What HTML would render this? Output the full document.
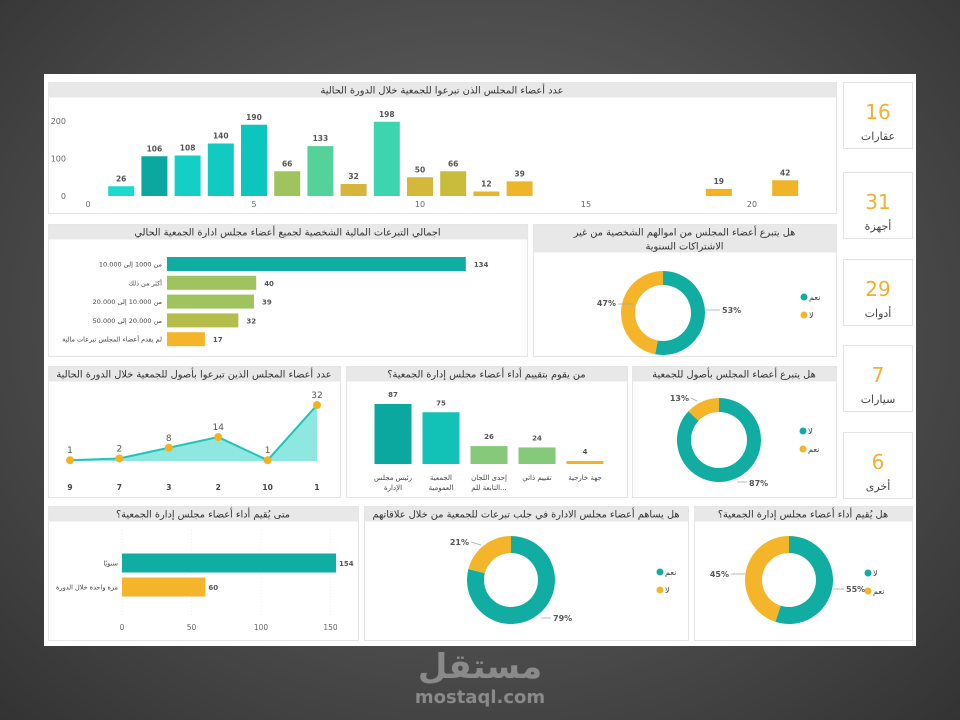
<!DOCTYPE html>
<html><head><meta charset="utf-8">
<style>
html,body{margin:0;padding:0;width:960px;height:720px;overflow:hidden}
body{background:radial-gradient(ellipse at 50% 45%,#6a6a6a 0%,#4a4a4a 60%,#333 100%);font-family:"DejaVu Sans","Liberation Sans",sans-serif}
svg{position:absolute;left:0;top:0}
text{font-family:"DejaVu Sans","Liberation Sans",sans-serif}
</style></head>
<body>
<svg id="s" width="960" height="720" xmlns="http://www.w3.org/2000/svg">
<rect x="44" y="74" width="872" height="572" fill="#fff"/>
<g id="logo">
<text x="480" y="678" text-anchor="middle" font-size="34" font-weight="bold" fill="#8a8a8a">مستقل</text>
<text x="480" y="703" text-anchor="middle" font-size="18" font-weight="bold" fill="#8a8a8a" font-family="Liberation Sans">mostaql.com</text>
</g>
</svg>
<script>
// ---- data ----
const topCats=[1,2,3,4,5,6,7,8,9,10,11,12,13,19,21];
const topVals=[26,106,108,140,190,66,133,32,198,50,66,12,39,19,42];
const topColors=["#1dd9cb","#0aa89f","#14cfc6","#11cac0","#0cc6bd","#9fc35e","#55d19a","#d6b53a","#3dd5b0","#d4b83a","#c9bb3c","#e8b52a","#ecb52a","#f3b124","#f0b428"];
const topXTicks=[0,5,10,15,20];
const topYTicks=[0,100,200];
const donLabels=["من 1000 إلى 10.000","أكثر من ذلك","من 10.000 إلى 20.000","من 20.000 إلى 50.000","لم يقدم أعضاء المجلس تبرعات مالية"];
const donVals=[134,40,39,32,17];
const donColors=["#12ada2","#9fc35e","#9fc35e","#b5bd4a","#f5b52a"];
const lineCats=["9","7","3","2","10","1"];
const lineVals=[1,2,8,14,1,32];
const evalCats=[["رئيس مجلس","الإدارة"],["الجمعية","العمومية"],["إحدى اللجان","التابعة للم..."],["تقييم ذاتي"],["جهة خارجية"]];
const evalVals=[87,75,26,24,4];
const evalColors=["#0aa89f","#12c2b6","#86c97a","#86c97a","#f3b124"];
const whenCats=["سنويًا","مرة واحدة خلال الدورة"];
const whenVals=[154,60];
const whenTicks=[0,50,100,150];
const d1Vals=[53,47], d1Legend=["نعم","لا"];
const d2Vals=[87,13], d2Legend=["لا","نعم"];
const d3Vals=[79,21], d3Legend=["نعم","لا"];
const d4Vals=[55,45], d4Legend=["لا","نعم"];
const kpiVals=[16,31,29,7,6];
const kpiLabels=["عقارات","أجهزة","أدوات","سيارات","أخرى"];
const TEAL="#12ada2", GOLD="#f5b52a";

const NS="http://www.w3.org/2000/svg", S=document.getElementById('s');
function el(tag,attrs,parent,txt){const e=document.createElementNS(NS,tag);for(const k in attrs)e.setAttribute(k,attrs[k]);if(txt!==undefined)e.textContent=txt;(parent||S).appendChild(e);return e;}
function panel(x,y,w,h,title,name,th){
  const g=el('g',{});
  
  
  el('rect',{x:x+.5,y:y+.5,width:w,height:h,fill:'#fff',stroke:'#e4e4e4'},g);
  const tb=el('rect',{x:x+.5,y:y+.5,width:w,height:th||15,fill:'#e8e8e8'},g);
  
  
  const lines=Array.isArray(title)?title:[title];
  lines.forEach((t,i)=>{const tt=el('text',{x:x+w/2,y:y+11.5+i*14,'text-anchor':'middle','font-size':9.8,fill:'#333'},g,t);
    
    });
  return g;
}
// ---- top bar chart ----
(function(){
  const g=panel(48,82,788,131,"عدد أعضاء المجلس الذن تبرعوا للجمعية خلال الدورة الحالية","top-bar-chart");
  const X=v=>88+v*33.2, Y=v=>196-v*0.375;
  topYTicks.forEach(t=>{const e=el('text',{x:66,y:Y(t)+3,'text-anchor':'end','font-size':8,fill:'#666'},g,t);
    
    });
  topXTicks.forEach(t=>{const e=el('text',{x:X(t),y:207,'text-anchor':'middle','font-size':8,fill:'#666'},g,t);
    
    });
  topCats.forEach((c,i)=>{const v=topVals[i];
    const b=el('rect',{x:X(c)-13,y:Y(v),width:26,height:Y(0)-Y(v),fill:topColors[i]},g);
    
    
    const l=el('text',{x:X(c),y:Y(v)-5,'text-anchor':'middle','font-size':7.5,'font-weight':'bold',fill:'#555'},g,v);
    
    });
})();
// ---- donations hbar ----
(function(){
  const g=panel(48,224,479,132,"اجمالي التبرعات المالية الشخصية لجميع أعضاء مجلس ادارة الجمعية الحالي","donations-bar-chart");
  const X=v=>167+v*2.23;
  donLabels.forEach((c,i)=>{const y=264+i*18.8;
    const b=el('rect',{x:X(0),y:y-7,width:X(donVals[i])-X(0),height:14,fill:donColors[i]},g);
    
    
    const t=el('text',{x:162,y:y+2.5,'text-anchor':'end','font-size':6.5,fill:'#444'},g,c);
    
    
    const v=el('text',{x:X(donVals[i])+8,y:y+3,'font-size':7,'font-weight':'bold',fill:'#555'},g,donVals[i]);
    
    });
})();
function donut(g,cx,cy,r0,r1,vals,colors,name){
  const tot=vals.reduce((a,b)=>a+b,0);let a=-Math.PI/2;
  vals.forEach((v,i)=>{const a2=a+v/tot*2*Math.PI,lg=(a2-a)>Math.PI?1:0;
    const p=`M${cx+r1*Math.cos(a)} ${cy+r1*Math.sin(a)} A${r1} ${r1} 0 ${lg} 1 ${cx+r1*Math.cos(a2)} ${cy+r1*Math.sin(a2)} L${cx+r0*Math.cos(a2)} ${cy+r0*Math.sin(a2)} A${r0} ${r0} 0 ${lg} 0 ${cx+r0*Math.cos(a)} ${cy+r0*Math.sin(a)}Z`;
    const s=el('path',{d:p,fill:colors[i]},g);
    
    
    a=a2;});
}
function pctLabel(g,x,y,t,anchor,lx1,ly1,lx2,ly2){
  el('line',{x1:lx1,y1:ly1,x2:lx2,y2:ly2,stroke:'#aaa','stroke-width':0.8},g);
  const e=el('text',{x:x,y:y,'text-anchor':anchor,'font-size':8,fill:'#555','font-weight':'bold'},g,t);
  
  
}
function legend(g,x,y,labels,name){
  labels.forEach((l,i)=>{const c=el('circle',{cx:x,cy:y+i*18,r:3.5,fill:i==0?TEAL:GOLD},g);
    
    
    const t=el('text',{x:x+5,y:y+i*18+3,'font-size':8,fill:'#444'},g,l);
    
    });
}
// donut 1
(function(){
  const g=panel(533,224,303,132,["هل يتبرع أعضاء المجلس من اموالهم الشخصية من غير","الاشتراكات السنوية"],"donut-personal",28);
  donut(g,663,313,28,42,d1Vals,[TEAL,GOLD],'personal');
  pctLabel(g,616,306,d1Vals[1]+'%','end',618,304,633,304);
  pctLabel(g,722,313,d1Vals[0]+'%','start',705,310,720,310);
  legend(g,804,297,d1Legend,'personal');
})();
// ---- line chart ----
(function(){
  const g=panel(48,366,292,131,"عدد أعضاء المجلس الذين تبرعوا بأصول للجمعية خلال الدورة الحالية","assets-line-chart");
  const X=i=>70+i*49.4, Y=v=>462-v*1.78;
  let pts=lineVals.map((v,i)=>X(i)+','+Y(v)).join(' ');
  const ar=el('polygon',{points:X(0)+','+(Y(0)-1)+' '+pts+' '+X(lineVals.length-1)+','+(Y(0)-1),fill:'#8fe8e0'},g);
  
  
  const ln=el('polyline',{points:pts,fill:'none',stroke:'#22c3bd','stroke-width':2},g);
  
  
  lineVals.forEach((v,i)=>{const c=el('circle',{cx:X(i),cy:Y(v),r:4,fill:'#f3b124'},g);
    
    
    const t=el('text',{x:X(i),y:Y(v)-7,'text-anchor':'middle','font-size':9,fill:'#555'},g,v);
    
    
    const x=el('text',{x:X(i),y:490,'text-anchor':'middle','font-size':7.5,'font-weight':'bold',fill:'#444'},g,lineCats[i]);
    
    });
})();
// ---- evaluator bars ----
(function(){
  const g=panel(346,366,281,131,"من يقوم بتقييم أداء أعضاء مجلس إدارة الجمعية؟","evaluator-bar-chart");
  const X=i=>393+i*48, Y=v=>464-v*0.69;
  evalVals.forEach((v,i)=>{const h=Math.max(Y(0)-Y(v),3);
    const b=el('rect',{x:X(i)-18.5,y:Y(0)-h,width:37,height:h,fill:evalColors[i]},g);
    
    
    const t=el('text',{x:X(i),y:Y(v)-7,'text-anchor':'middle','font-size':7,'font-weight':'bold',fill:'#555'},g,v);
    
    
    evalCats[i].forEach((ln,j)=>{const c=el('text',{x:X(i),y:480+j*10,'text-anchor':'middle','font-size':7,fill:'#444'},g,ln);
      
      });});
})();
// donut 2
(function(){
  const g=panel(632,366,204,131,"هل يتبرع أعضاء المجلس بأصول للجمعية","donut-assets");
  donut(g,719,440,28,42,d2Vals,[TEAL,GOLD],'assets');
  pctLabel(g,689,401,d2Vals[1]+'%','end',691,398,697,401);
  pctLabel(g,749,486,d2Vals[0]+'%','start',737,482,747,482);
  legend(g,803,431,d2Legend,'assets');
})();
// ---- when hbar ----
(function(){
  const g=panel(48,506,310,134,"متى يُقيم أداء أعضاء مجلس إدارة الجمعية؟","evaluation-frequency-chart");
  const X=v=>122+v*1.39;
  whenTicks.forEach(t=>{el('line',{x1:X(t),y1:530,x2:X(t),y2:617,stroke:'#eee','stroke-dasharray':'1,2'},g);
    const e=el('text',{x:X(t),y:630,'text-anchor':'middle','font-size':7.5,fill:'#666'},g,t);
    
    });
  whenCats.forEach((c,i)=>{const y=563+i*24;
    const b=el('rect',{x:X(0),y:y-9.5,width:X(whenVals[i])-X(0),height:19,fill:i==0?TEAL:GOLD},g);
    
    
    const t=el('text',{x:118,y:y+2.5,'text-anchor':'end','font-size':6.5,fill:'#444'},g,c);
    
    
    const v=el('text',{x:X(whenVals[i])+3,y:y+3,'font-size':7,'font-weight':'bold',fill:'#555'},g,whenVals[i]);
    
    });
})();
// donut 3
(function(){
  const g=panel(364,506,324,134,"هل يساهم أعضاء مجلس الادارة في جلب تبرعات للجمعية من خلال علاقاتهم","donut-fundraising");
  donut(g,511,580,27,44,d3Vals,[TEAL,GOLD],'fundraising');
  pctLabel(g,469,545,d3Vals[1]+'%','end',471,542,481,545);
  pctLabel(g,553,621,d3Vals[0]+'%','start',541,618,551,618);
  legend(g,660,572,d3Legend,'fundraising');
})();
// donut 4
(function(){
  const g=panel(694,506,218,134,"هل يُقيم أداء أعضاء مجلس إدارة الجمعية؟","donut-evaluated");
  donut(g,789,580,27,44,d4Vals,[TEAL,GOLD],'evaluated');
  pctLabel(g,729,577,d4Vals[1]+'%','end',731,574,745,574);
  pctLabel(g,846,592,d4Vals[0]+'%','start',833,589,844,589);
  legend(g,868,573,d4Legend,'evaluated');
})();
// ---- KPI cards ----
(function(){
  const ys=[82,172,259,345,432];
  kpiVals.forEach((v,i)=>{const y=ys[i];
    const g=el('g',{});
    
    
    el('rect',{x:843.5,y:y+.5,width:69,height:66,fill:'#fff',stroke:'#e4e4e4'},g);
    const n=el('text',{x:878,y:y+37,'text-anchor':'middle','font-size':20,fill:'#f0b030'},g,v);
    
    
    const l=el('text',{x:878,y:y+58,'text-anchor':'middle','font-size':11,fill:'#444'},g,kpiLabels[i]);
    
    });
})();
S.appendChild(document.getElementById('logo'));
</script>
</body></html>
